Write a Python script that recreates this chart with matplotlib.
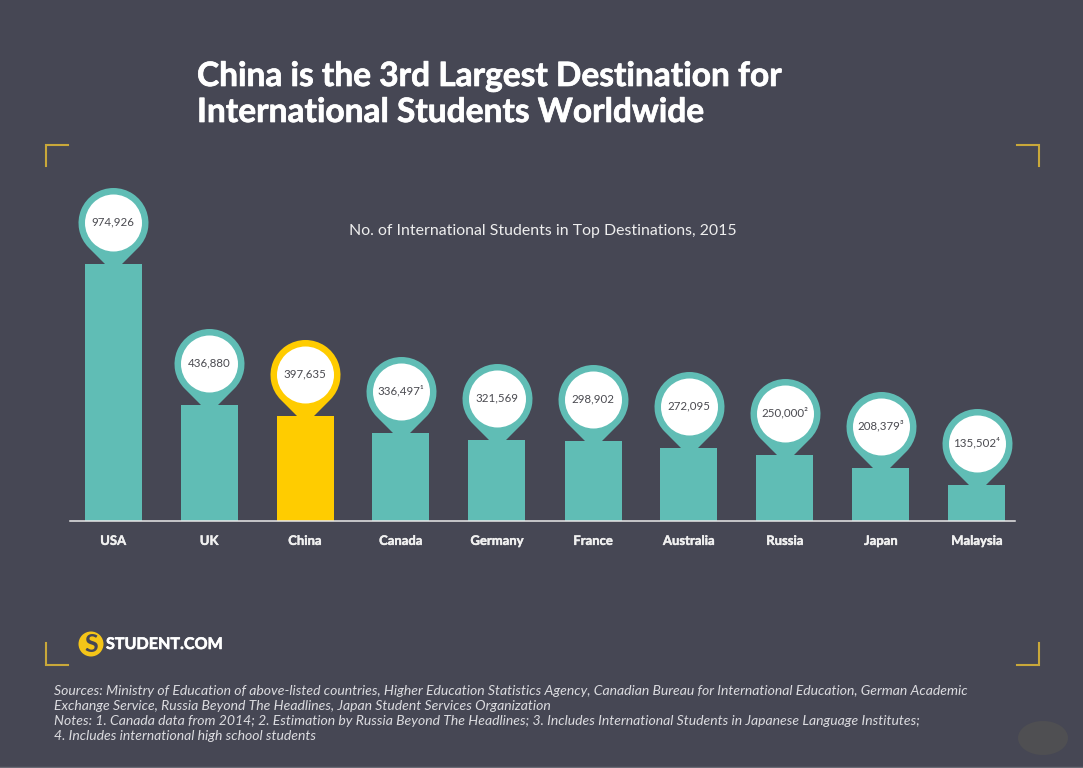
import matplotlib
matplotlib.use("Agg")
from matplotlib import pyplot as plt
from matplotlib import patheffects
from matplotlib.patches import Circle, Ellipse
from matplotlib.path import Path
from matplotlib.transforms import Affine2D

countries = ["USA", "UK", "China", "Canada", "Germany", "France", "Australia", "Russia", "Japan", "Malaysia"]
# bar heights as drawn in the picture, slightly off the printed numbers in places
students = [971600, 438600, 397000, 332700, 306200, 302500, 276000, 249500, 200400, 136100]
value_labels = ["974,926", "436,880", "397,635", "336,497\u00b9", "321,569", "298,902", "272,095",
                "250,000\u00b2", "208,379\u00b3", "135,502\u2074"]
highlight = "China"

title_lines = ["China is the 3rd Largest Destination for", "International Students Worldwide"]
subtitle = "No. of International Students in Top Destinations, 2015"
footnotes = [
    "Sources: Ministry of Education of above-listed countries, Higher Education Statistics Agency, Canadian Bureau for International Education, German Academic",
    "Exchange Service, Russia Beyond The Headlines, Japan Student Services Organization",
    "Notes: 1. Canada data from 2014; 2. Estimation by Russia Beyond The Headlines; 3. Includes International Students in Japanese Language Institutes;",
    "4. Includes international high school students",
]

BG = "#464754"
TEAL = "#60bdb5"
YELLOW = "#ffcc00"
GOLD = "#c9a83a"
W, H = 1083, 768
PX = 72 / 100  # points per pixel at dpi 100

plt.rcParams["font.family"] = ["Lato", "DejaVu Sans"]
fig = plt.figure(figsize=(W / 100, H / 100), dpi=100, facecolor=BG)

# background layer in pixel coordinates, for text and decoration
bg = fig.add_axes([0, 0, 1, 1])
bg.set_xlim(0, W)
bg.set_ylim(H, 0)
bg.axis("off")

# chart axes: 1 category = 96 px, baseline at y=521
x0, x1, y_base, y_top = 70, 1015, 521, 100
ax = fig.add_axes([x0 / W, 1 - y_base / H, (x1 - x0) / W, (y_base - y_top) / H])
ax.patch.set_alpha(0)
ax.set_xlim((x0 - 113) / 96, (x1 - 113) / 96)
ax.set_ylim(0, (y_base - y_top) / 0.0002645)
for s in ["top", "left", "right"]:
    ax.spines[s].set_visible(False)
ax.spines["bottom"].set_color("#e8e8e8")
ax.spines["bottom"].set_linewidth(1.1)
ax.set_yticks([])
ax.set_xticks(range(len(countries)))
ax.set_xticklabels(countries, fontsize=9.4, fontweight="bold", color="#f0f0f0")
ax.tick_params(axis="x", length=0, pad=10)
for lab in ax.get_xticklabels():
    lab.set_path_effects([patheffects.withStroke(linewidth=0.3, foreground="#f0f0f0")])

colors = [YELLOW if c == highlight else TEAL for c in countries]
xs = list(range(len(countries)))
ax.bar(xs, students, width=57 / 96, color=colors, linewidth=0, zorder=2)


# pin shapes, anchored on the bar top
def pin_marker(center, radius):
    arc = Path.arc(-45, 225)
    verts = arc.vertices * radius + [0, center]
    neck = 8
    verts = list(map(tuple, verts)) + [(-neck, 0), (-neck, -1), (neck, -1), (neck, 0), tuple(verts[0])]
    codes = list(arc.codes) + [Path.LINETO] * 5
    return Path(verts, codes)


def circle_marker(center, radius):
    return Path.unit_circle().transformed(Affine2D().scale(radius).translate(0, center))


def marker_size(path):
    # custom markers get rescaled by their largest vertex, control points included
    return 2 * abs(path.vertices).max() * PX


CENTER, R_OUT, R_IN = 41.5, 35, 28.5
pin = pin_marker(CENTER, R_OUT)
hole = circle_marker(CENTER, R_IN)
for x, v, c, lab in zip(xs, students, colors, value_labels):
    ax.plot([x], [v], marker=pin, markersize=marker_size(pin), color=c, markeredgewidth=0, zorder=3, clip_on=False)
    ax.plot([x], [v], marker=hole, markersize=marker_size(hole), color="white", markeredgewidth=0, zorder=4, clip_on=False)
    ax.annotate(lab, (x, v), xytext=(0, (CENTER + 1) * PX), textcoords="offset points", ha="center",
                va="center", fontsize=8.3, color="#4a4a50", zorder=5, annotation_clip=False)

for y, line in zip([86, 122], title_lines):
    bg.text(197, y, line, fontsize=24.1, fontweight="bold", color="white", va="baseline", ha="left",
            path_effects=[patheffects.withStroke(linewidth=0.5, foreground="white")])
bg.text(543, 231, subtitle, fontsize=11.4, color="#eeeeee", va="center", ha="center")

# corner brackets
bg.plot([68, 46, 46], [145, 145, 166], color=GOLD, lw=1.5, solid_joinstyle="miter")
bg.plot([1017, 1039, 1039], [145, 145, 166], color=GOLD, lw=1.5, solid_joinstyle="miter")
bg.plot([46, 46, 68], [643, 665, 665], color=GOLD, lw=1.5, solid_joinstyle="miter")
bg.plot([1017, 1039, 1039], [665, 665, 643], color=GOLD, lw=1.5, solid_joinstyle="miter")

# logo
bg.add_patch(Circle((91, 644), 12.5, color="#f5c518", lw=0))
bg.text(91, 644, "S", fontsize=18, fontweight="bold", color=BG, ha="center", va="center")
bg.text(106, 649, "STUDENT.COM", fontsize=11.6, fontweight="bold", color="white", va="baseline", ha="left",
        path_effects=[patheffects.withStroke(linewidth=0.4, foreground="white")])

for y, line in zip([695, 709.5, 725, 740], footnotes):
    bg.text(54, y, line, fontsize=10.1, style="italic", color="#dcdce0", va="baseline", ha="left")

# smudge bottom right
bg.add_patch(Ellipse((1043, 738), 50, 34, color="#4f4f52", lw=0))
bg.plot([0, W], [766.5, 766.5], color="#6a6b75", lw=1)

fig.savefig("out.png", dpi=100, facecolor=BG)
